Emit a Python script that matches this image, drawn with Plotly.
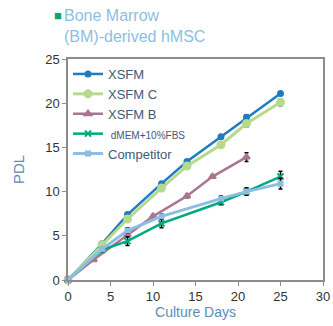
import plotly.graph_objects as go

days_xsfm = [0, 4, 7, 11, 14, 18, 21, 25]
pdl_xsfm = [0, 4.1, 7.4, 10.9, 13.4, 16.2, 18.4, 21.1]
err_xsfm = [0, 0.1, 0.2, 0.2, 0.2, 0.2, 0.3, 0.2]

days_c = [0, 4, 7, 11, 14, 18, 21, 25]
pdl_c = [0, 4.0, 6.9, 10.4, 12.9, 15.3, 17.7, 20.1]
err_c = [0, 0.2, 0.3, 0.3, 0.2, 0.3, 0.4, 0.4]

days_b = [0, 3, 7, 10, 14, 17, 21]
pdl_b = [0, 2.3, 5.1, 7.2, 9.5, 11.7, 13.9]
err_b = [0, 0.1, 0.2, 0.2, 0.2, 0.2, 0.5]

days_d = [0, 4, 7, 11, 18, 21, 25]
pdl_d = [0, 3.4, 4.4, 6.4, 8.8, 10.0, 11.7]
err_d = [0, 0.2, 0.5, 0.5, 0.3, 0.4, 0.6]

days_comp = [0, 4, 7, 11, 18, 21, 25]
pdl_comp = [0, 3.5, 5.6, 7.2, 9.2, 10.0, 10.9]
err_comp = [0, 0.2, 0.3, 0.3, 0.3, 0.4, 0.6]

series = [
    ("XSFM", days_xsfm, pdl_xsfm, err_xsfm, "#1f7cc1", "circle", 5, 2.5),
    ("XSFM C", days_c, pdl_c, err_c, "#b7d98e", "circle", 7, 3),
    ("XSFM B", days_b, pdl_b, err_b, "#a97591", "triangle-up", 6, 2.5),
    ("dMEM+10%FBS", days_d, pdl_d, err_d, "#02a97c", "x-thin-open", 6, 2.5),
    ("Competitor", days_comp, pdl_comp, err_comp, "#8dbde1", "square", 4, 3),
]

fig = go.Figure()
for name, x, y, e, col, sym, ms, lw in series:
    label = name if name != "dMEM+10%FBS" else "<span style='font-size:10px'> dMEM+10%FBS</span>"
    fig.add_trace(go.Scatter(
        x=x, y=y, name=label, mode="lines+markers",
        line=dict(color=col, width=lw),
        marker=dict(symbol=sym, size=ms, color=col, line=dict(color=col, width=2)),
        error_y=dict(type="data", array=e, visible=True, color="black", thickness=1.5, width=2),
        cliponaxis=False,
    ))

fig.update_layout(
    width=333, height=326,
    margin=dict(l=68, r=10, t=59, b=46),
    paper_bgcolor="white", plot_bgcolor="white",
    font=dict(family="Liberation Sans, Arial, sans-serif", color="#333333", size=13),
    showlegend=True,
    legend=dict(x=0.0, y=1.0, xanchor="left", yanchor="top",
                bgcolor="rgba(0,0,0,0)", font=dict(size=13, color="#3e5a76"),
                tracegroupgap=0, itemwidth=30),
    xaxis=dict(range=[0, 30], tickvals=[0, 5, 10, 15, 20, 25, 30], automargin=False,
               showgrid=False, zeroline=False, showline=True, linecolor="#8c8c8c",
               linewidth=1.5, mirror=True, ticks="outside", ticklen=4, tickcolor="#8c8c8c",
               title=dict(text="Culture Days", font=dict(color="#5b8db5", size=14), standoff=4)),
    yaxis=dict(range=[0, 25], tickvals=[0, 5, 10, 15, 20, 25], automargin=False,
               showgrid=False, zeroline=False, showline=True, linecolor="#8c8c8c",
               linewidth=1.5, mirror=True, ticks="outside", ticklen=4, tickcolor="#8c8c8c",
               title=dict(text="PDL", font=dict(color="#5b8db5", size=15), standoff=17)),
)

fig.add_annotation(xref="paper", yref="paper", x=-0.014, y=1.197, xanchor="right", yanchor="middle",
                   text="■", showarrow=False, font=dict(color="#00a77a", size=13))
fig.add_annotation(xref="paper", yref="paper", x=-0.025, y=1.243, xanchor="left", yanchor="top",
                   align="left", text="Bone Marrow<br>(BM)-derived hMSC", showarrow=False,
                   font=dict(color="#8cc0e2", size=16))

fig.write_html("out.html", config={"displayModeBar": False},
               post_script="document.body.style.margin='0';document.body.style.overflow='hidden';")
